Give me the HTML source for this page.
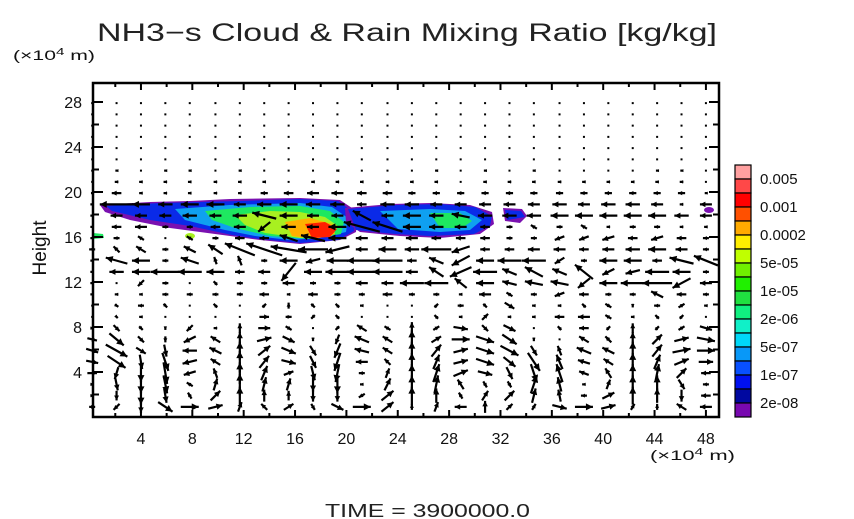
<!DOCTYPE html>
<html><head><meta charset="utf-8"><style>
html,body{margin:0;padding:0;background:#fff;}
svg{display:block;font-family:"Liberation Sans",sans-serif;}
</style></head><body>
<svg id="c" width="854" height="519" viewBox="0 0 854 519">
<text x="97" y="41" textLength="620" lengthAdjust="spacingAndGlyphs" font-size="25" fill="#222">NH3−s Cloud &amp; Rain Mixing Ratio [kg/kg]</text>
<text x="13" y="60" textLength="82" lengthAdjust="spacingAndGlyphs" font-size="14" fill="#111">(×10<tspan dy="-5" font-size="10">4</tspan><tspan dy="5"> m)</tspan></text>
<text x="650" y="460" textLength="85" lengthAdjust="spacingAndGlyphs" font-size="14" fill="#111">(×10<tspan dy="-5" font-size="10">4</tspan><tspan dy="5"> m)</tspan></text>
<text transform="translate(46,248) rotate(-90)" text-anchor="middle" font-size="19" fill="#111">Height</text>
<text x="325" y="517" textLength="205" lengthAdjust="spacingAndGlyphs" font-size="18" fill="#222">TIME = 3900000.0</text>
<g id="cloud">
<path d="M100,205 L150,202 L190,201 L230,199 L300,198 L340,200 L358,212 L356,232 L340,240 L300,244 L260,240 L230,236 L170,228 L130,220 L105,212 Z" fill="#7a10b0"/>
<path d="M106,206 L160,203 L200,202 L240,201 L300,199 L338,201 L356,214 L354,231 L338,240 L300,243 L260,239 L232,235 L190,226 L150,220 L112,211 Z" fill="#0a2ae8"/>
<path d="M175,209 L230,205 L300,203 L332,207 L348,218 L346,232 L320,238 L290,240 L255,236 L225,230 L185,220 Z" fill="#0fa0f0"/>
<path d="M205,211 L250,207 L300,206 L330,211 L344,222 L341,234 L310,239 L270,236 L235,228 L212,220 Z" fill="#1ee860"/>
<path d="M235,215 L270,211 L300,212 L325,217 L338,226 L332,236 L300,238 L265,233 L245,225 Z" fill="#a8f020"/>
<path d="M285,222 L310,218 L332,224 L335,234 L315,239 L292,236 Z" fill="#ffb000"/>
<path d="M305,224 L325,222 L337,229 L330,237 L312,238 Z" fill="#ff2000"/>
<path d="M345,208 L390,204 L430,203 L470,205 L492,212 L494,224 L480,234 L440,238 L400,236 L360,232 L346,222 Z" fill="#7a10b0"/>
<path d="M348,209 L395,205 L440,204 L475,207 L492,216 L490,226 L474,234 L430,236 L395,234 L356,230 Z" fill="#0a2ae8"/>
<path d="M380,211 L430,209 L465,211 L482,220 L470,230 L440,232 L398,229 Z" fill="#0fa0f0"/>
<path d="M430,213 L460,213 L472,221 L462,228 L440,228 Z" fill="#1ee860"/>
<path d="M503,208 L522,209 L527,216 L520,223 L505,221 Z" fill="#7a10b0"/>
<path d="M505,210 L521,211 L525,217 L507,220 Z" fill="#0a2ae8"/>
<ellipse cx="709" cy="210" rx="5" ry="3" fill="#7a10b0"/>
<path d="M93,233 L103,234 L104,238 L93,239 Z" fill="#1ee860"/>
<ellipse cx="190" cy="236" rx="5" ry="3" fill="#a8f020"/>
</g>
<g id="vec"></g>
<g id="axes"></g>
<g id="cbar"></g>
</svg>
<script>
const xs=[0.2,2.1,4.0,5.9,7.8,9.8,11.7,13.6,15.5,17.4,19.3,21.2,23.2,25.1,27.0,28.9,30.8,32.7,34.6,36.6,38.5,40.4,42.3,44.2,46.1,48.0];
const ys=[0.9,1.9,2.9,3.9,4.9,5.9,6.9,7.9,8.9,9.9,10.9,11.9,12.9,13.9,14.9,15.9,16.9,17.9,18.9,19.9,20.9,21.9,22.9,23.9,24.9,25.9,26.9,27.9];
const U=[
[5,-5,0,12,15,12,3,-5,8,3,10,15,10,0,3,-10,0,5,3,12,15,12,3,0,-8,-10],
[3,0,0,2,-3,8,0,0,0,0,0,-5,10,0,0,-3,5,8,3,-2,-5,10,0,0,0,-8],
[3,2,0,3,-5,3,0,3,3,0,0,-3,5,0,3,-5,3,3,5,-3,-3,3,0,0,5,-5],
[8,-3,0,3,-10,-3,0,5,8,3,-3,-5,3,0,5,12,12,5,5,-5,-8,-5,0,3,8,-8],
[10,15,2,5,-12,-8,0,8,12,5,-5,-10,-5,0,5,12,15,10,10,-5,-10,-8,0,5,12,12],
[10,18,8,2,-12,-10,0,10,12,5,-5,-12,-8,0,8,12,15,15,5,-3,-12,-10,0,8,15,15],
[8,12,5,0,-10,-8,0,12,10,0,-3,-12,-8,0,8,15,15,12,0,0,-8,-5,0,8,12,15],
[3,5,3,0,-5,-3,0,10,5,0,-3,-8,-5,0,5,12,5,10,0,-3,-8,3,0,3,5,10],
[0,2,-3,0,0,0,0,8,5,-3,-3,0,0,0,-3,-3,5,-3,-3,-8,-10,-5,-3,-3,3,0],
[0,3,-5,3,0,-3,0,3,0,3,-3,-3,0,0,3,5,3,8,-3,-3,-3,5,0,-5,5,-3],
[-3,-3,-3,-5,-5,-5,-5,-8,-3,-8,-5,-5,-8,-5,-5,-3,-10,-5,-5,-8,-8,-5,-5,-10,-8,-5],
[-3,0,-5,-5,0,-3,-5,-5,-10,-5,-5,-10,-10,-20,-20,-10,-15,-12,-15,-15,-10,-15,-20,-25,-15,-10],
[-3,-12,-15,-25,-20,-15,-8,-10,-12,-15,-20,-25,-25,-10,-12,-18,-20,-12,-15,-12,-15,-10,-12,-20,-15,-5],
[-3,-18,-15,-5,-15,-2,-3,-5,-15,-12,-18,-25,-25,-8,-12,-15,-15,-20,-20,-8,-5,-15,-15,-8,-20,-20],
[-5,-5,-8,-5,-10,-12,-25,-30,-30,-25,-20,-10,-15,-12,-25,-15,-8,-8,-10,-10,-8,-10,-12,-15,-10,-5],
[-3,-5,-5,0,-5,-5,-8,-8,-15,-20,-15,-10,-10,-10,-8,-8,-8,-5,-5,-8,-8,-10,-8,-10,-8,-5],
[-3,-8,-10,-5,-5,-8,-10,-10,-12,-10,-15,-30,-25,-15,-12,-10,-8,-5,-5,-5,-5,-3,-5,-5,-3,-3],
[-3,-10,-10,-10,-12,-10,-12,-20,-15,-10,-10,-15,-10,-15,-12,-15,-12,-12,-12,-15,-15,-15,-15,-15,-12,-10],
[-3,-28,-15,-12,-15,-15,-10,-12,-15,-12,-12,-8,-12,-12,-10,-10,-10,-10,-10,-12,-10,-12,-12,-10,-3,-10],
[-2,-8,-3,-3,-3,-3,-3,-6,-8,-10,-10,-8,-8,-6,-6,-6,-6,-6,-6,-6,-6,-6,-6,-6,-6,-2],
[0,-3,-3,-3,-3,-3,-3,-3,0,-3,-3,-3,-3,-3,-3,0,-3,-3,-3,-3,-3,-3,-3,-3,-3,0],
[0,-2,0,-2,-2,0,-2,0,0,0,-2,0,0,0,-2,0,-2,0,-2,0,0,0,0,-2,-2,0],
[0,0,0,0,0,0,0,0,0,0,0,0,0,0,0,0,0,0,0,0,0,0,0,0,0,0],
[0,0,0,0,0,0,0,0,0,0,0,0,0,0,0,0,0,0,0,0,0,0,0,0,0,0],
[0,0,0,0,0,0,0,0,0,0,0,0,0,0,0,0,0,0,0,0,0,0,0,0,0,0],
[0,0,0,0,0,0,0,0,0,0,0,0,0,0,0,0,0,0,0,0,0,0,0,0,0,0],
[0,0,0,0,0,0,0,0,0,0,0,0,0,0,0,0,0,0,0,0,0,0,0,0,0,0],
[0,0,0,0,0,0,0,0,0,0,0,0,0,0,0,0,0,0,0,0,0,0,0,0,0,0]
];
const V=[
[0,-5,-10,-8,0,3,8,5,5,-5,-5,0,8,5,8,0,10,5,5,-3,0,3,5,5,5,0],
[0,-8,-15,-12,5,8,15,10,8,-10,-10,-3,8,15,12,5,8,8,12,10,0,5,15,12,-10,0],
[0,-10,-15,-15,3,10,18,12,10,-12,-15,0,10,15,15,8,-5,-5,15,12,0,8,15,15,-8,0],
[0,-10,-15,-18,-3,8,18,12,3,-12,-15,0,8,15,15,5,-3,-10,-15,15,3,8,15,15,8,0],
[-2,-10,-12,-15,-3,5,18,10,-3,-10,-15,0,5,15,12,3,-5,-8,-15,12,3,5,15,12,5,0],
[-3,-10,-5,-10,0,5,15,8,-5,-8,-12,3,5,15,10,3,-5,-8,-8,8,5,5,15,10,3,0],
[-2,-10,-5,-5,-5,5,12,3,-5,-3,-8,5,5,15,5,0,-5,-8,-3,0,5,5,12,8,3,-3],
[0,-5,-3,-3,-5,0,8,0,-3,0,-3,5,3,10,3,-2,-5,-5,0,3,0,3,8,3,3,-3],
[0,-2,0,0,0,0,0,0,0,-3,3,0,0,0,3,0,5,0,0,0,0,3,0,3,3,0],
[0,-2,0,-3,0,3,0,3,5,-3,3,0,0,0,3,0,-3,-5,0,0,3,-3,-3,0,3,0],
[0,0,0,0,0,0,0,0,0,0,0,0,0,0,0,0,0,3,0,-3,0,0,0,5,0,0],
[0,0,-5,0,0,3,0,0,0,0,0,0,0,0,0,8,0,3,3,3,-8,0,0,0,-8,0],
[0,0,0,0,0,0,0,0,-15,0,0,0,0,0,8,-8,0,5,8,5,12,-5,-3,0,0,0],
[0,5,0,0,5,6,8,0,0,-3,0,0,0,0,5,-8,0,0,0,-5,0,0,0,0,5,8],
[0,5,5,0,5,8,10,10,5,0,-5,0,0,0,0,-5,0,0,0,0,0,0,0,0,0,0],
[0,0,3,0,3,0,0,0,5,5,0,0,0,0,0,0,0,0,0,-3,-3,-3,0,-3,0,0],
[0,0,0,0,0,0,0,-8,0,0,0,8,8,0,0,0,0,0,3,0,3,0,0,0,0,0],
[0,0,0,0,0,0,0,5,0,0,0,8,0,0,0,3,0,0,0,0,0,0,0,0,0,0],
[0,0,0,0,0,0,0,0,0,0,0,0,0,0,0,0,0,0,0,0,0,0,0,0,0,0],
[0,0,0,0,0,0,0,0,0,0,0,0,0,0,0,0,0,0,0,0,0,0,0,0,0,0],
[0,0,0,0,0,0,0,0,0,0,0,0,0,0,0,0,0,0,0,0,0,0,0,0,0,0],
[0,0,0,0,0,0,0,0,0,0,0,0,0,0,0,0,0,0,0,0,0,0,0,0,0,0],
[0,0,0,0,0,0,0,0,0,0,0,0,0,0,0,0,0,0,0,0,0,0,0,0,0,0],
[0,0,0,0,0,0,0,0,0,0,0,0,0,0,0,0,0,0,0,0,0,0,0,0,0,0],
[0,0,0,0,0,0,0,0,0,0,0,0,0,0,0,0,0,0,0,0,0,0,0,0,0,0],
[0,0,0,0,0,0,0,0,0,0,0,0,0,0,0,0,0,0,0,0,0,0,0,0,0,0],
[0,0,0,0,0,0,0,0,0,0,0,0,0,0,0,0,0,0,0,0,0,0,0,0,0,0],
[0,0,0,0,0,0,0,0,0,0,0,0,0,0,0,0,0,0,0,0,0,0,0,0,0,0]
];
const xTicks=[4,8,12,16,20,24,28,32,36,40,44,48];
const yTicks=[4,8,12,16,20,24,28];
const cbLabels=["0.005","0.001","0.0002","5e-05","1e-05","2e-06","5e-07","1e-07","2e-08"];
const cbColors=["#ffa0a0","#ff4848","#ff0000","#ff5000","#ffaa00","#ffee00","#c0ff00","#70f000","#20f000","#20e040","#10f080","#10f0c8","#00d8f8","#0898f8","#0850ff","#0010f0","#0008a0","#7808b0"];
const X0=93,X1=719,Y0=83,Y1=417,VS=1.2;
const sx=v=>89.6+v*12.84;
const sy=v=>417-v*11.25;
const NS="http://www.w3.org/2000/svg";
function mk(tag,attrs,parent){const e=document.createElementNS(NS,tag);for(const k in attrs)e.setAttribute(k,attrs[k]);parent.appendChild(e);return e;}
const vg=document.getElementById('vec');
for(let r=0;r<ys.length;r++){for(let j=0;j<xs.length;j++){
 const u=U[r][j]*VS,v=V[r][j]*VS;const cx=sx(xs[j]),cy=sy(ys[r]);
 const L=Math.hypot(u,v);
 if(L<1.5){const d=mk('rect',{x:cx-1,y:cy-1,width:2,height:2,fill:'#000'},vg);
  
  continue;}
 const x1=cx-u/2,y1=cy+v/2,x2=cx+u/2,y2=cy-v/2;
 const g=mk('g',{},vg);
 
 
 mk('line',{x1:x1,y1:y1,x2:x2,y2:y2,stroke:'#000','stroke-width':2.2},g);
 const ux=(x2-x1)/L,uy=(y2-y1)/L,h=Math.min(7,2.5+L*0.25),w=h*0.5;
 mk('polygon',{points:`${x2},${y2} ${x2-ux*h-uy*w},${y2-uy*h+ux*w} ${x2-ux*h+uy*w},${y2-uy*h-ux*w}`,fill:'#000'},g);
}}
const ag=document.getElementById('axes');
const fr=mk('rect',{x:X0,y:Y0,width:X1-X0,height:Y1-Y0,fill:'none',stroke:'#000','stroke-width':2.5},ag);


for(let t=2;t<=48;t+=2){const x=sx(t),len=t%4===0?7:4;
 mk('line',{x1:x,y1:Y1,x2:x,y2:Y1-len,stroke:'#000','stroke-width':2},ag);
 mk('line',{x1:x,y1:Y0,x2:x,y2:Y0+len,stroke:'#000','stroke-width':2},ag);}
for(let t=2;t<=28;t+=2){const y=sy(t),len=t%4===0?10:6;
 mk('line',{x1:X0,y1:y,x2:X0+len,y2:y,stroke:'#000','stroke-width':2},ag);
 mk('line',{x1:X1,y1:y,x2:X1-len,y2:y,stroke:'#000','stroke-width':2},ag);}
xTicks.forEach(t=>{const e=mk('text',{x:sx(t),y:444,'text-anchor':'middle','font-size':16,fill:'#111'},ag);e.textContent=t;
 
 });
yTicks.forEach(t=>{const e=mk('text',{x:82,y:sy(t)+6,'text-anchor':'end','font-size':16,fill:'#111'},ag);e.textContent=t;
 
 });
const cg=document.getElementById('cbar');
const bh=(417-165)/cbColors.length;
cbColors.forEach((c,i)=>{const e=mk('rect',{x:735,y:165+i*bh,width:16,height:bh,fill:c,stroke:'#000','stroke-width':1.2},cg);
 
 });
cbLabels.forEach((l,i)=>{const e=mk('text',{x:760,y:165+(2*i+1)*bh+5,'font-size':15,fill:'#111'},cg);e.textContent=l;
 
 });
</script>
</body></html>
